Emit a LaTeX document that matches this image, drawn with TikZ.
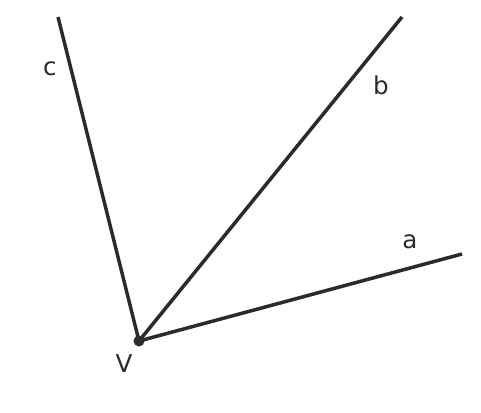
\documentclass[tikz,border=0pt]{standalone}
\usepackage{fontspec}
\setmainfont{DejaVu Sans}
\definecolor{ink}{HTML}{2B2B2B}

\begin{document}
\begin{tikzpicture}[x=0.02cm,y=-0.02cm,line width=2pt,draw=ink,font=\fontsize{14}{16}\selectfont,
  lbl/.style={text=ink,inner sep=0pt}]
\useasboundingbox (0,0) rectangle (481,413);
\coordinate (V) at (139,341);
\coordinate (ta) at (462,254);
\coordinate (tb) at (402,17);
\coordinate (tc) at (58,17);
\draw (V) -- (ta);
\draw (V) -- (tb);
\draw (V) -- (tc);
\fill[ink] (V) circle (5.5);

% labels
\node[lbl] (la) at (410,242) {a};
\node[lbl] (lb) at (381,85) {b};
\node[lbl] (lc) at (50,69) {c};
\node[lbl] (lV) at (124,364) {V};
\end{tikzpicture}
\end{document}
